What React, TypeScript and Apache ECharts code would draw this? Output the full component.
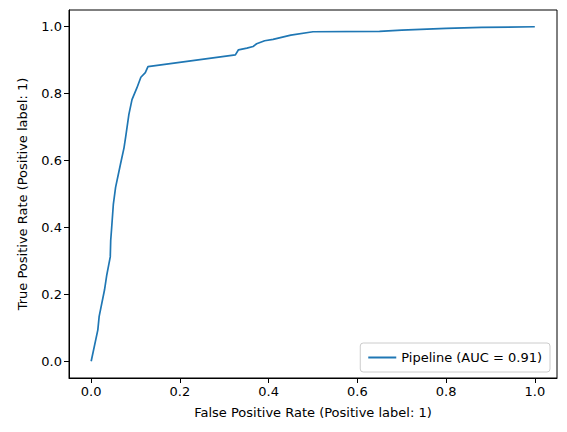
import React, { useEffect, useRef } from "react";
import * as echarts from "echarts";

const fpr = [0, 0.015, 0.018, 0.03, 0.035, 0.043, 0.044, 0.046, 0.05, 0.055, 0.066, 0.074, 0.078, 0.085, 0.092, 0.103, 0.112, 0.122, 0.128, 0.325, 0.332, 0.351, 0.365, 0.373, 0.391, 0.41, 0.45, 0.5, 0.65, 0.7, 0.8, 0.88, 1.0];
const tpr = [0, 0.094, 0.134, 0.213, 0.257, 0.312, 0.361, 0.396, 0.47, 0.52, 0.589, 0.638, 0.673, 0.738, 0.782, 0.817, 0.849, 0.863, 0.881, 0.916, 0.931, 0.936, 0.941, 0.949, 0.958, 0.962, 0.975, 0.985, 0.986, 0.99, 0.995, 0.998, 1.0];
const ticks = [0, 0.2, 0.4, 0.6, 0.8, 1.0];

export default function App() {
  const ref = useRef<HTMLDivElement>(null);
  useEffect(() => {
    const chart = echarts.init(ref.current!, null, { renderer: "svg" });
    const font = "DejaVu Sans";
    const axisCommon = {
      type: "value", min: -0.05, max: 1.05,
      nameLocation: "middle",
      nameTextStyle: { fontFamily: font, fontSize: 13, color: "#000" },
      splitLine: { show: false },
      axisLine: { show: true, onZero: false, lineStyle: { color: "#000" } },
      axisTick: { show: true, customValues: ticks, length: 5, lineStyle: { color: "#000" } },
      axisLabel: { customValues: ticks, formatter: (v: number) => v.toFixed(1), fontFamily: font, fontSize: 13, color: "#000", margin: 7 },
    };
    chart.setOption({
      animation: false,
      grid: { left: 54, right: 2, top: 2, bottom: 46, show: true, borderColor: "#000", borderWidth: 1 },
      xAxis: { ...axisCommon, name: "False Positive Rate (Positive label: 1)", nameGap: 28 },
      yAxis: { ...axisCommon, name: "True Positive Rate (Positive label: 1)", nameGap: 40 },
      legend: {
        right: 9, bottom: 52, orient: "vertical",
        backgroundColor: "#fff", borderColor: "#ccc", borderWidth: 1, borderRadius: 3,
        padding: [8, 8], itemWidth: 28, itemHeight: 2,
        textStyle: { fontFamily: font, fontSize: 13, color: "#000" },
        data: [{ name: "Pipeline (AUC = 0.91)", icon: "rect" }],
      },
      series: [{
        name: "Pipeline (AUC = 0.91)", type: "line", showSymbol: false, symbol: "none",
        lineStyle: { color: "#1f77b4", width: 1.7 }, itemStyle: { color: "#1f77b4" },
        data: fpr.map((x, i) => [x, tpr[i]]),
      }],
    });
    return () => chart.dispose();
  }, []);
  return <div ref={ref} style={{ width: 551, height: 416 }} />;
}
